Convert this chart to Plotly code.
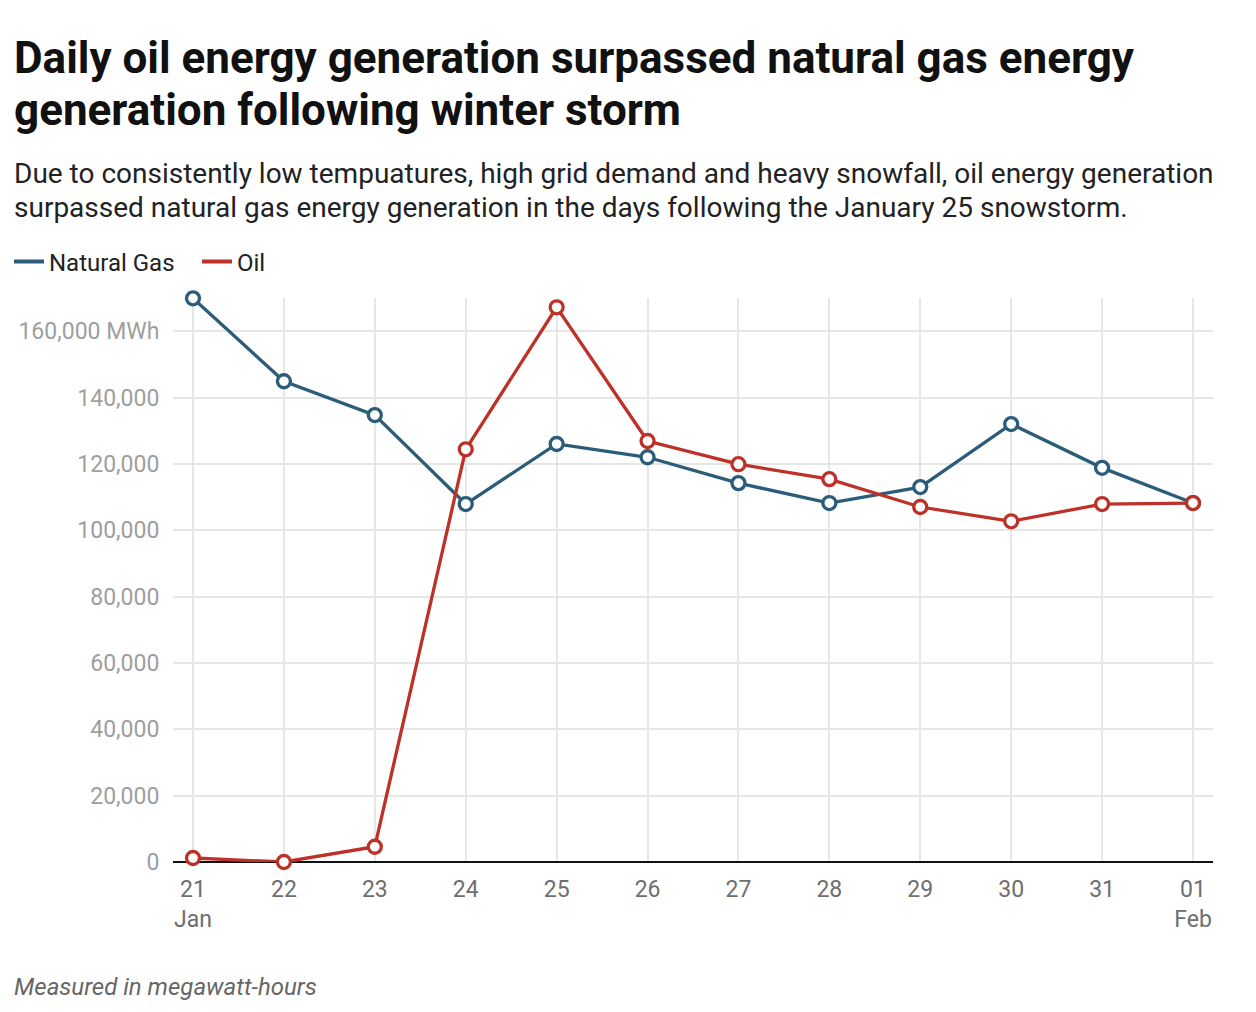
import plotly.graph_objects as go

days = ["21<br>Jan", "22", "23", "24", "25", "26", "27", "28", "29", "30", "31", "01<br>Feb"]
natural_gas = [169900, 144900, 134700, 107900, 126000, 122000, 114200, 108200, 113000, 132000, 118800, 108200]
oil = [1200, 0, 4600, 124400, 167200, 126900, 119900, 115400, 107000, 102700, 107900, 108200]
y_tickvals = [0, 20000, 40000, 60000, 80000, 100000, 120000, 140000, 160000]
y_ticktext = ["0", "20,000", "40,000", "60,000", "80,000", "100,000", "120,000", "140,000", "160,000 MWh"]

GAS = "#2b5c79"
OIL = "#bd3129"
FONT = "Roboto"

x_idx = list(range(len(days)))

fig = go.Figure()
for name, vals, col in [("Natural Gas", natural_gas, GAS), ("Oil", oil, OIL)]:
    fig.add_trace(go.Scatter(
        x=x_idx, y=vals, name=name, mode="lines+markers",
        line=dict(color=col, width=3.3),
        marker=dict(symbol="circle", size=13, color="white", line=dict(color=col, width=3.3)),
        cliponaxis=False, showlegend=False,
    ))
# legend entries (line only)
for name, col in [("Natural Gas", GAS), ("Oil", OIL)]:
    fig.add_trace(go.Scatter(
        x=[None], y=[None], name=name, mode="lines",
        line=dict(color=col, width=4), showlegend=True,
    ))

W, H = 1256, 1012
OFF = 8  # page offset
L, R, T, B = 173 - OFF, 51, 298 - OFF, 1012 - (862 - OFF)
PW = W - L - R
PH = H - T - B

def pxx(px):
    return (px - OFF - L) / PW

def pxy(py):
    return (H - B - (py - OFF)) / PH

fig.update_layout(
    width=W, height=H,
    margin=dict(l=L, r=R, t=T, b=B, autoexpand=False),
    paper_bgcolor="white", plot_bgcolor="white",
    font=dict(family=FONT, color="#222"),
    showlegend=True,
    legend=dict(
        orientation="h", x=pxx(9), y=pxy(262),
        xanchor="left", yanchor="middle",
        font=dict(size=24, color="#222", family=FONT),
        entrywidth=143, entrywidthmode="pixels", tracegroupgap=0,
    ),
    xaxis=dict(
        range=[-0.22, 11.22], tickmode="array", tickvals=x_idx, ticktext=days,
        showgrid=True, gridcolor="#e6e6e6", gridwidth=2,
        zeroline=False, showline=False,
        ticks="outside", ticklen=6, tickcolor="rgba(0,0,0,0)",
        tickfont=dict(size=23, color="#6e6e6e", family=FONT),
    ),
    yaxis=dict(
        range=[0, 170000], tickmode="array", tickvals=y_tickvals, ticktext=y_ticktext,
        showgrid=True, gridcolor="#e6e6e6", gridwidth=2,
        zeroline=True, zerolinecolor="#111", zerolinewidth=2,
        ticks="outside", ticklen=8, tickcolor="rgba(0,0,0,0)",
        tickfont=dict(size=23, color="#9e9e9e", family=FONT),
    ),
)

texts = [
    ("Daily oil energy generation surpassed natural gas energy", 58, 44, "#111", True, False),
    ("generation following winter storm", 110, 44, "#111", True, False),
    ("Due to consistently low tempuatures, high grid demand and heavy snowfall, oil energy generation", 173, 28, "#222", False, False),
    ("surpassed natural gas energy generation in the days following the January 25 snowstorm.", 207, 28, "#222", False, False),
    ("Measured in megawatt-hours", 987, 24, "#666", False, True),
]
for t, yc, size, col, bold, ital in texts:
    txt = f"<b>{t}</b>" if bold else (f"<i>{t}</i>" if ital else t)
    fig.add_annotation(
        text=txt, xref="paper", yref="paper",
        x=pxx(12), y=pxy(yc),
        xanchor="left", yanchor="middle", showarrow=False,
        font=dict(size=size, color=col, family=FONT),
    )

fig.write_html("out.html")
